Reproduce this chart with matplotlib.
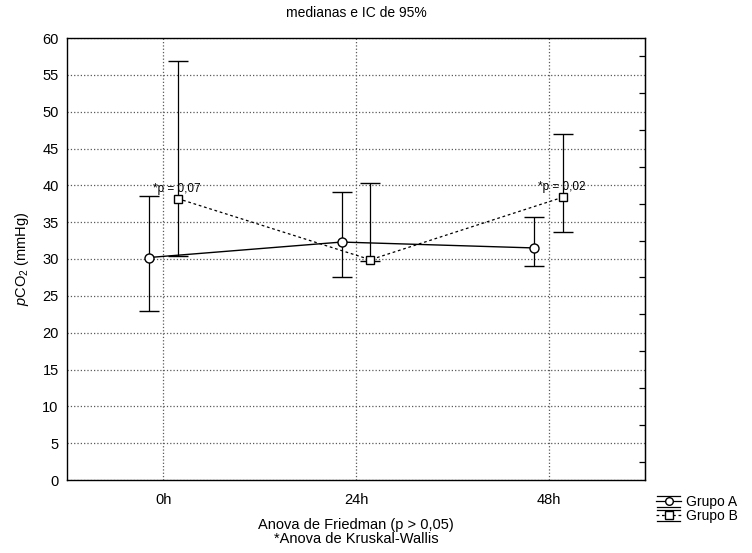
import matplotlib
matplotlib.use("Agg")
import matplotlib.pyplot as plt
from matplotlib.legend_handler import HandlerBase
from matplotlib.lines import Line2D
import numpy as np

plt.rcParams['font.family'] = ['Liberation Sans', 'DejaVu Sans']
plt.rcParams['mathtext.fontset'] = 'custom'
plt.rcParams['mathtext.rm'] = 'Liberation Sans'
plt.rcParams['mathtext.it'] = 'Liberation Sans:italic'

categories = ['0h', '24h', '48h']
grupo_a_median = [30.2, 32.3, 31.5]
grupo_a_low = [23.0, 27.5, 29.0]
grupo_a_high = [38.5, 39.1, 35.7]
grupo_b_median = [38.2, 29.9, 38.4]
grupo_b_low = [30.4, 29.7, 33.7]
grupo_b_high = [56.9, 40.3, 47.0]
p_labels = ['*p = 0,07', None, '*p = 0,02']
y_ticks = list(range(0, 65, 5))
series_names = ['Grupo A', 'Grupo B']

DOT = (0, (2.2, 2.2))


class CapHandler(HandlerBase):
    def __init__(self, marker, ls):
        super().__init__()
        self.marker = marker
        self.ls = ls

    def create_artists(self, legend, orig_handle, xdescent, ydescent,
                       width, height, fontsize, trans):
        cy = height / 2 - ydescent
        arts = []
        for dy in (-4.0, 4.0):
            arts.append(Line2D([-xdescent + 1, -xdescent + width - 1],
                               [cy + dy, cy + dy], color='black', lw=0.9,
                               transform=trans))
        arts.append(Line2D([-xdescent, -xdescent + width], [cy, cy],
                           color='black', lw=0.9, linestyle=self.ls,
                           transform=trans))
        arts.append(Line2D([-xdescent + width / 2], [cy], marker=self.marker,
                           ms=5.5, mfc='white', mec='black', mew=1.0,
                           linestyle='none', transform=trans))
        return arts


fig = plt.figure(figsize=(7.52, 5.53), dpi=100)
ax = fig.add_axes([67/752, 1-480/553, (645-67)/752, (480-38)/553])

x = np.arange(len(categories))
off = 0.075
xa = x - off
xb = x + off

a_med = np.array(grupo_a_median)
b_med = np.array(grupo_b_median)
a_err = [a_med - np.array(grupo_a_low), np.array(grupo_a_high) - a_med]
b_err = [b_med - np.array(grupo_b_low), np.array(grupo_b_high) - b_med]

ea = ax.errorbar(xa, a_med, yerr=a_err, fmt='-o', color='black', lw=1.0,
                 elinewidth=0.9, capsize=7, capthick=0.9, ms=6.5,
                 mfc='white', mec='black', mew=1.0, zorder=3)
eb = ax.errorbar(xb, b_med, yerr=b_err, fmt='s', color='black', lw=1.0,
                 elinewidth=0.9, capsize=7, capthick=0.9, ms=6,
                 mfc='white', mec='black', mew=1.0, zorder=4)
ax.plot(xb, b_med, linestyle=DOT, color='black', lw=0.9, zorder=2)

for xi, yi, lab in zip(xb, b_med, p_labels):
    if lab:
        ax.text(xi - 0.13, yi + 0.5, lab, fontsize=8.5, ha='left', va='bottom', zorder=5)

ax.set_xlim(-0.5, 2.5)
ax.set_ylim(0, 60)
ax.set_xticks(x)
ax.set_xticklabels(categories, fontsize=10.5)
ax.set_yticks(y_ticks)
ax.set_yticklabels([str(t) for t in y_ticks], fontsize=10.5)
ax.tick_params(axis='both', length=0, pad=9)
ax.tick_params(axis='y', pad=6)
ax.grid(True, linestyle=':', color='0.35', linewidth=0.9)
ax.set_axisbelow(True)
for s in ax.spines.values():
    s.set_linewidth(1.0)
    s.set_color('black')

ax2 = ax.secondary_yaxis('right')
ax2.set_yticks(np.arange(2.5, 60, 5))
ax2.set_yticklabels([])
ax2.tick_params(direction='in', length=4, width=0.9)

ax.set_ylabel(r'$\mathit{p}$CO$_2$ (mmHg)', fontsize=10.5, labelpad=8)
ax.set_xlabel('Anova de Friedman (p > 0,05)\n*Anova de Kruskal-Wallis',
              fontsize=10.5, labelpad=8, linespacing=1.0)

fig.text((67 + 645) / 2 / 752, 1 - 13 / 553, 'medianas e IC de 95%',
         ha='center', va='center', fontsize=10)

ha_ = Line2D([], [])
hb_ = Line2D([], [])
fig.legend(handles=[ha_, hb_], labels=series_names,
           loc='upper left', bbox_to_anchor=(656/752, 1 - 495/553),
           frameon=False, fontsize=10, handlelength=1.8, handletextpad=0.35,
           labelspacing=0.0, borderpad=0.0, borderaxespad=0.0,
           handleheight=0.7,
           handler_map={ha_: CapHandler('o', '-'), hb_: CapHandler('s', DOT)})

fig.savefig('out.png', dpi=100)
